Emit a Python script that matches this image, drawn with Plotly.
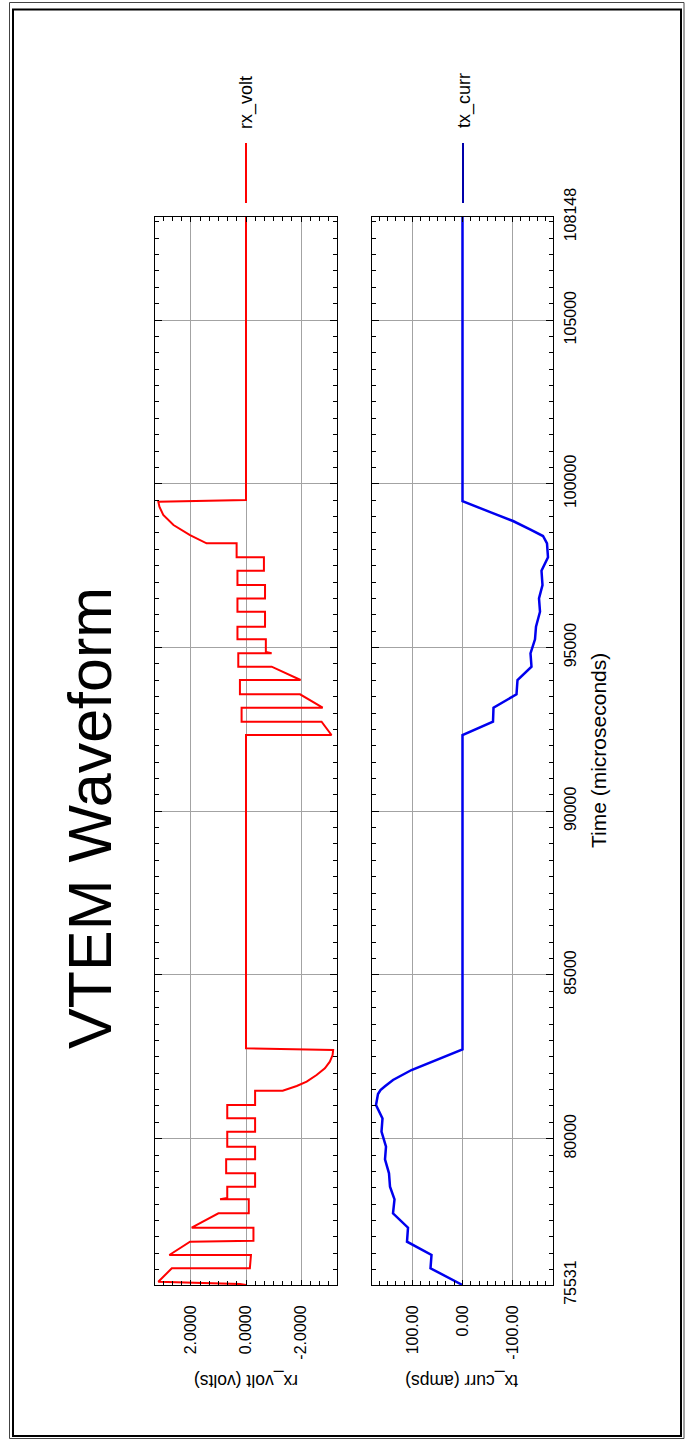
import plotly.graph_objects as go

# ---------------- data ----------------
time_rx = [75531, 75560, 75632, 76041, 76041, 76447, 76447, 76854, 76880, 77282,
           77282, 77720, 77720, 78147, 78147, 78190, 78534, 78534, 78941, 78941,
           79368, 79368, 79755, 79755, 80213, 80213, 80620, 80620, 81028, 81028,
           81465, 81465, 81608, 81740, 81944, 82148, 82351, 82555, 82708, 82758,
           92328, 92328, 92734, 92734, 93162, 93162, 93571, 93571, 94008, 94008,
           94415, 94415, 94822, 94822, 94860, 95250, 95250, 95635, 95635, 96093,
           96093, 96500, 96500, 96907, 96907, 97345, 97345, 97753, 97753, 98181,
           98181, 98435, 98741, 99046, 99300, 99452, 99504, 108148]
rx_volt = [0.00, 0.22, 3.18, 2.69, -0.14, -0.18, 2.78, 2.03, -0.27, -0.27,
           1.97, 1.00, -0.10, -0.10, 0.94, 0.68, 0.68, -0.33, -0.33, 0.72,
           0.72, -0.33, -0.33, 0.68, 0.68, -0.33, -0.33, 0.68, 0.68, -0.33,
           -0.33, -1.33, -1.84, -2.20, -2.56, -2.86, -3.04, -3.14, -3.16, 0.00,
           0.00, -3.10, -2.74, 0.16, 0.16, -2.78, -1.96, 0.22, 0.22, -1.98,
           -0.93, 0.28, 0.28, -0.93, -0.72, -0.72, 0.31, 0.31, -0.69, -0.69,
           0.31, 0.31, -0.69, -0.69, 0.31, 0.31, -0.65, -0.65, 0.34, 0.34,
           1.43, 2.03, 2.63, 3.00, 3.14, 3.18, 0.00, 0.00]

time_tx = [75531, 76041, 76447, 76854, 77282, 77720, 78147, 78534, 78941, 79368,
           79755, 80213, 80620, 81028, 81363, 81486, 81600, 81792, 82097, 82402,
           82729, 92328, 92734, 93162, 93571, 94008, 94415, 94822, 95250, 95635,
           96093, 96500, 96907, 97345, 97753, 98181, 98405, 98609, 98863, 99118,
           99473, 108148]
tx_curr = [0, 64, 62, 111, 109, 139, 136, 145, 147, 155,
           153, 162, 160, 173, 169, 164, 155, 139, 102, 52,
           0, 0, -61, -62, -108, -110, -138, -136, -145, -147,
           -155, -153, -160, -158, -171, -169, -161, -135, -101, -58,
           0, 0]

time_ticks = [75531, 80000, 85000, 90000, 95000, 100000, 105000, 108148]
time_labels = ["75531", "80000", "85000", "90000", "95000", "100000", "105000", "108148"]
rx_ticks = [2, 0, -2]
rx_labels = ["2.0000", "0.0000", "-2.0000"]
tx_ticks = [100, 0, -100]
tx_labels = ["100.00", "0.00", "-100.00"]

time_range = [75531, 108148]
rx_range = [3.3, -3.3]
tx_range = [181, -181]

# ---------------- layout helpers ----------------
W, H = 686, 1440


def px(x):
    return x / W


def py(y):
    return 1 - y / H


SANS = "Liberation Sans, Arial, sans-serif"
GRID = "#a3a3a3"

common = dict(showline=True, linecolor="black", linewidth=1, mirror="ticks",
              ticks="inside", tickcolor="black", tickwidth=1,
              showgrid=True, gridcolor=GRID, gridwidth=1, zeroline=False,
              automargin=False, fixedrange=True,
              tickfont=dict(family=SANS, size=16, color="black"))

fig = go.Figure()
fig.add_trace(go.Scatter(x=rx_volt, y=time_rx, mode="lines", name="rx_volt",
                         line=dict(color="#ff0000", width=2),
                         xaxis="x", yaxis="y", showlegend=False))
fig.add_trace(go.Scatter(x=tx_curr, y=time_tx, mode="lines", name="tx_curr",
                         line=dict(color="#0000ee", width=2.5),
                         xaxis="x2", yaxis="y2", showlegend=False))

fig.update_layout(
    width=W, height=H, autosize=False, template="none",
    margin=dict(l=0, r=0, t=0, b=0),
    paper_bgcolor="white", plot_bgcolor="white", showlegend=False,
    xaxis=dict(domain=[px(155), px(337)], range=rx_range, anchor="y",
               tickmode="array", tickvals=rx_ticks, ticktext=rx_labels,
               tickangle=-90, ticklen=5, ticklabelstandoff=13,
               minor=dict(tickmode="linear", tick0=0, dtick=2 / 6, ticks="inside",
                          ticklen=4, tickcolor="black", showgrid=False),
               **common),
    xaxis2=dict(domain=[px(372), px(553)], range=tx_range, anchor="y2",
                tickmode="array", tickvals=tx_ticks, ticktext=tx_labels,
                tickangle=-90, ticklen=5, ticklabelstandoff=13,
                minor=dict(tickmode="linear", tick0=0, dtick=100 / 6, ticks="inside",
                           ticklen=4, tickcolor="black", showgrid=False),
                **common),
    yaxis=dict(domain=[py(1285), py(217)], range=time_range, anchor="x",
               tickmode="array", tickvals=time_ticks, ticktext=time_labels,
               showticklabels=False, ticklen=7,
               minor=dict(tickmode="linear", tick0=0, dtick=500, ticks="inside",
                          ticklen=4, tickcolor="black", showgrid=False),
               **common),
    yaxis2=dict(domain=[py(1285), py(217)], range=time_range, anchor="x2",
                matches="y", side="right",
                tickmode="array", tickvals=time_ticks, ticktext=time_labels,
                showticklabels=True, tickangle=-90, ticklen=7, ticklabelstandoff=3,
                minor=dict(tickmode="linear", tick0=0, dtick=500, ticks="inside",
                           ticklen=4, tickcolor="black", showgrid=False),
                **common),
)

ann = []
ann.append(dict(text="VTEM Waveform", x=px(90), y=py(818), textangle=-90,
                font=dict(family=SANS, size=61, color="black")))
ann.append(dict(text="Time (microseconds)", x=px(598), y=py(751), textangle=-90,
                font=dict(family=SANS, size=21, color="black")))
ann.append(dict(text="rx_volt (volts)", x=px(246), y=py(1381), textangle=180,
                font=dict(family=SANS, size=17.5, color="black")))
ann.append(dict(text="tx_curr (amps)", x=px(462), y=py(1381), textangle=180,
                font=dict(family=SANS, size=17.5, color="black")))
ann.append(dict(text="rx_volt", x=px(247), y=py(103), textangle=-90,
                font=dict(family=SANS, size=18, color="black")))
ann.append(dict(text="tx_curr", x=px(465), y=py(101), textangle=-90,
                font=dict(family=SANS, size=18, color="black")))
for a in ann:
    a.update(xref="paper", yref="paper", showarrow=False,
             xanchor="center", yanchor="middle")
fig.update_layout(annotations=ann)

shapes = [
    # legend line samples
    dict(type="line", xref="paper", yref="paper", x0=px(246), x1=px(246),
         y0=py(143), y1=py(203), line=dict(color="#ff0000", width=2)),
    dict(type="line", xref="paper", yref="paper", x0=px(463), x1=px(463),
         y0=py(143), y1=py(203), line=dict(color="#0000aa", width=2)),
    # outer frame (double border)
    dict(type="rect", xref="paper", yref="paper", x0=px(9.5), x1=px(684),
         y0=py(1438.5), y1=py(2.5), line=dict(color="#444444", width=1)),
    dict(type="rect", xref="paper", yref="paper", x0=px(13), x1=px(681),
         y0=py(1436), y1=py(9.5), line=dict(color="black", width=2)),
]
fig.update_layout(shapes=shapes)

fig.write_html("out.html", config={"displayModeBar": False},
               post_script="document.body.style.margin='0';"
                           "document.body.style.padding='0';"
                           "document.body.style.overflow='hidden';")
